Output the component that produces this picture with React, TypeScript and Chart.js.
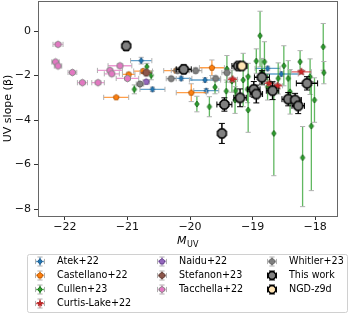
import React, { useEffect, useRef } from "react";
import { Chart, registerables } from "chart.js";

Chart.register(...registerables);

const X_TICKS = [-22, -21, -20, -19, -18];
const Y_TICKS = [-8, -6, -4, -2, 0];
const X_RANGE = [-22.43, -17.65];
const Y_RANGE = [-8.31, 1.35];

// each point: [M_UV, beta, xerr, yerrLow, yerrHigh]
const ATEK = [
  [-20.78, -1.33, 0.17, 0.15, 0.15],
  [-20.6, -2.62, 0.2, 0.1, 0.1],
  [-20.14, -2.13, 0.17, 0.1, 0.1],
  [-19.76, -2.2, 0.25, 0.1, 0.1],
  [-19.74, -2.68, 0.2, 0.1, 0.1],
  [-18.76, -1.68, 0.2, 0.1, 0.1],
  [-18.54, -1.93, 0.27, 0.1, 0.1],
];
const CASTELLANO = [
  [-21.18, -2.98, 0.2, 0.05, 0.05],
  [-20.98, -1.95, 0.1, 0.1, 0.1],
  [-20.75, -1.8, 0.15, 0.1, 0.1],
  [-20.22, -1.78, 0.2, 0.1, 0.1],
  [-19.65, -1.65, 0.2, 0.35, 0.35],
  [-19.98, -2.77, 0.24, 0.4, 0.4],
];
const CULLEN = [
  [-20.89, -2.62, 0, 0.2, 0.2],
  [-20.69, -1.6, 0, 0.15, 0.15],
  [-20.62, -1.99, 0, 0.2, 0.2],
  [-19.6, -2.52, 0, 0.3, 0.3],
  [-19.89, -3.28, 0, 0.35, 0.35],
  [-19.69, -3.4, 0, 0.45, 0.45],
  [-19.41, -1.7, 0, 0.6, 0.6],
  [-19.42, -2.7, 0, 0.5, 0.5],
  [-19.33, -2.25, 0, 0.5, 0.5],
  [-19.27, -2.68, 0, 0.5, 0.5],
  [-19.28, -3.1, 0, 0.6, 0.6],
  [-19.15, -2.2, 0, 1.2, 1.2],
  [-19.08, -2.62, 0, 0.6, 0.6],
  [-19.07, -3.55, 0, 1.0, 1.0],
  [-19.07, -2.05, 0, 0.6, 0.6],
  [-18.94, -1.35, 0, 0.55, 0.55],
  [-18.88, -0.21, 0, 1.4, 1.1],
  [-18.81, -1.38, 0, 0.9, 0.9],
  [-18.85, -1.83, 0, 0.6, 0.6],
  [-18.76, -2.5, 0, 0.6, 0.6],
  [-18.66, -4.6, 0, 1.9, 1.9],
  [-18.59, -2.13, 0, 0.7, 0.7],
  [-18.5, -1.56, 0, 0.9, 0.9],
  [-18.43, -2.13, 0, 0.8, 0.8],
  [-18.4, -2.73, 0, 1.0, 1.0],
  [-18.24, -1.38, 0, 0.5, 0.5],
  [-18.2, -5.69, 0, 2.2, 1.4],
  [-18.08, -2.05, 0, 0.8, 0.8],
  [-18.06, -4.27, 0, 2.9, 2.0],
  [-18.01, -3.1, 0, 1.0, 1.0],
  [-17.87, -0.71, 0, 1.05, 1.05],
  [-17.86, -1.87, 0, 0.5, 0.5],
];
const CURTIS_LAKE = [
  [-19.32, -2.17, 0.08, 0.1, 0.1],
  [-18.73, -2.35, 0.08, 0.1, 0.1],
  [-18.6, -2.46, 0.08, 0.1, 0.1],
  [-18.22, -1.83, 0.16, 0.1, 0.1],
];
const NAIDU = [[-20.7, -2.28, 0.05, 0.1, 0.1]];
const STEFANON = [[-20.7, -1.87, 0.1, 0.15, 0.15]];
const TACCHELLA = [
  [-22.11, -0.6, 0.08, 0.08, 0.08],
  [-22.15, -1.39, 0.06, 0.08, 0.08],
  [-22.11, -1.57, 0.06, 0.08, 0.08],
  [-21.88, -1.86, 0.07, 0.08, 0.08],
  [-21.72, -2.32, 0.08, 0.08, 0.08],
  [-21.47, -2.32, 0.1, 0.08, 0.08],
  [-21.12, -1.56, 0.19, 0.1, 0.1],
  [-21.28, -1.77, 0.2, 0.1, 0.1],
  [-21.25, -1.92, 0.12, 0.1, 0.1],
  [-21.0, -2.13, 0.18, 0.1, 0.1],
];
const WHITLER = [
  [-20.8, -2.38, 0.06, 0.1, 0.1],
  [-20.3, -2.14, 0.08, 0.1, 0.1],
  [-20.2, -1.78, 0.1, 0.12, 0.12],
  [-19.91, -1.78, 0.1, 0.12, 0.12],
  [-19.41, -1.87, 0.08, 0.1, 0.1],
  [-19.59, -2.13, 0.08, 0.1, 0.1],
];
const THIS_WORK = [
  [-21.02, -0.67, 0.03, 0.2, 0.2],
  [-20.1, -1.72, 0.12, 0.2, 0.2],
  [-19.45, -3.3, 0.12, 0.3, 0.3],
  [-19.49, -4.6, 0.05, 0.45, 0.45],
  [-19.2, -3.0, 0.1, 0.4, 0.4],
  [-19.23, -1.57, 0.1, 0.15, 0.15],
  [-18.98, -2.62, 0.1, 0.35, 0.35],
  [-18.94, -2.83, 0.1, 0.4, 0.4],
  [-18.85, -2.08, 0.12, 0.3, 0.3],
  [-18.68, -2.68, 0.1, 0.4, 0.4],
  [-18.43, -3.06, 0.1, 0.3, 0.3],
  [-18.32, -3.1, 0.1, 0.3, 0.3],
  [-18.27, -3.36, 0.1, 0.35, 0.35],
  [-18.13, -2.35, 0.17, 0.3, 0.3],
];
const NGD_Z9D = [[-19.17, -1.57, 0.08, 0.12, 0.12]];

const FONT = '"DejaVu Sans", sans-serif';

type Style = {
  label: string;
  pts: number[][];
  shape: string;
  r: number;
  fill: string;
  edge: string;
  lw: number;
  errColor: string;
  capColor: string;
  errWidth: number;
  order: number;
};

const SERIES: Style[] = [
  { label: "Atek+22", pts: ATEK, shape: "diamond", r: 3.0, fill: "#1f77b4", edge: "#1f4f7f", lw: 0.8, errColor: "rgba(31,119,180,0.7)", capColor: "#b0b0b0", errWidth: 1.3, order: 100 },
  { label: "Castellano+22", pts: CASTELLANO, shape: "pentagon", r: 3.0, fill: "#ff7f0e", edge: "#a85000", lw: 0.8, errColor: "rgba(255,127,14,0.75)", capColor: "#b0b0b0", errWidth: 1.3, order: 99 },
  { label: "Cullen+23", pts: CULLEN, shape: "diamond", r: 3.0, fill: "#2ca02c", edge: "#145a14", lw: 0.8, errColor: "rgba(44,160,44,0.75)", capColor: "#b0b0b0", errWidth: 1.3, order: 98 },
  { label: "Curtis-Lake+22", pts: CURTIS_LAKE, shape: "star", r: 4.0, fill: "#d62728", edge: "#8a1010", lw: 0.6, errColor: "rgba(214,39,40,0.75)", capColor: "#b0b0b0", errWidth: 1.3, order: 97 },
  { label: "Naidu+22", pts: NAIDU, shape: "pentagon", r: 3.2, fill: "#9467bd", edge: "#5a3a80", lw: 0.8, errColor: "rgba(148,103,189,0.75)", capColor: "#b0b0b0", errWidth: 1.3, order: 96 },
  { label: "Stefanon+23", pts: STEFANON, shape: "octagon", r: 3.6, fill: "#8c564b", edge: "#4a2a22", lw: 0.8, errColor: "rgba(140,86,75,0.75)", capColor: "#b0b0b0", errWidth: 1.3, order: 95 },
  { label: "Tacchella+22", pts: TACCHELLA, shape: "hexagon", r: 3.4, fill: "#e377c2", edge: "#888888", lw: 1, errColor: "rgba(227,119,194,0.75)", capColor: "#b0b0b0", errWidth: 1.3, order: 94 },
  { label: "Whitler+23", pts: WHITLER, shape: "octagon", r: 3.2, fill: "#7f7f7f", edge: "#555555", lw: 0.8, errColor: "rgba(127,127,127,0.7)", capColor: "#b0b0b0", errWidth: 1.3, order: 93 },
  { label: "This work", pts: THIS_WORK, shape: "octagon", r: 4.8, fill: "#808080", edge: "#000000", lw: 1.5, errColor: "#000000", capColor: "#000000", errWidth: 1.5, order: 1 },
  { label: "NGD-z9d", pts: NGD_Z9D, shape: "octagon", r: 4.8, fill: "#ffe4b5", edge: "#000000", lw: 1.5, errColor: "#000000", capColor: "#000000", errWidth: 1.5, order: 0 },
];

function shapePath(ctx: CanvasRenderingContext2D, shape: string, cx: number, cy: number, r: number) {
  ctx.beginPath();
  if (shape === "diamond") {
    ctx.moveTo(cx, cy - r);
    ctx.lineTo(cx + r * 0.75, cy);
    ctx.lineTo(cx, cy + r);
    ctx.lineTo(cx - r * 0.75, cy);
  } else if (shape === "star") {
    for (let i = 0; i < 10; i++) {
      const a = -Math.PI / 2 + (i * Math.PI) / 5;
      const rr = i % 2 === 0 ? r : r * 0.42;
      const px = cx + rr * Math.cos(a);
      const py = cy + rr * Math.sin(a);
      if (i === 0) ctx.moveTo(px, py);
      else ctx.lineTo(px, py);
    }
  } else {
    const n = shape === "pentagon" ? 5 : shape === "hexagon" ? 6 : 8;
    const off = shape === "pentagon" ? -Math.PI / 2 : shape === "hexagon" ? -Math.PI / 2 : Math.PI / 8;
    for (let i = 0; i < n; i++) {
      const a = off + (i * 2 * Math.PI) / n;
      const px = cx + r * Math.cos(a);
      const py = cy + r * Math.sin(a);
      if (i === 0) ctx.moveTo(px, py);
      else ctx.lineTo(px, py);
    }
  }
  ctx.closePath();
}

function drawMarker(ctx: CanvasRenderingContext2D, s: Style, cx: number, cy: number) {
  shapePath(ctx, s.shape, cx, cy, s.r);
  ctx.fillStyle = s.fill;
  ctx.fill();
  ctx.lineWidth = s.lw;
  ctx.strokeStyle = s.edge;
  ctx.stroke();
}

function markerCanvas(s: Style) {
  const size = Math.ceil(2 * (s.r + s.lw) + 2);
  const c = document.createElement("canvas");
  c.width = size;
  c.height = size;
  const ctx = c.getContext("2d")!;
  drawMarker(ctx, s, size / 2, size / 2);
  return c;
}

function drawErr(ctx: CanvasRenderingContext2D, s: Style, x: number, y: number, xl: number, xh: number, yl: number, yh: number) {
  const cap = s.order <= 1 ? 3 : 2.6;
  ctx.lineWidth = s.errWidth;
  ctx.strokeStyle = s.errColor;
  ctx.beginPath();
  if (xh - xl > 0.5) {
    ctx.moveTo(xl, y);
    ctx.lineTo(xh, y);
  }
  if (yl - yh > 0.5) {
    ctx.moveTo(x, yh);
    ctx.lineTo(x, yl);
  }
  ctx.stroke();
  ctx.strokeStyle = s.capColor;
  ctx.lineWidth = 1;
  ctx.beginPath();
  if (xh - xl > 0.5) {
    ctx.moveTo(xl, y - cap);
    ctx.lineTo(xl, y + cap);
    ctx.moveTo(xh, y - cap);
    ctx.lineTo(xh, y + cap);
  }
  if (yl - yh > 0.5) {
    ctx.moveTo(x - cap, yh);
    ctx.lineTo(x + cap, yh);
    ctx.moveTo(x - cap, yl);
    ctx.lineTo(x + cap, yl);
  }
  ctx.stroke();
}

const minus = (v: number) => String(v).replace("-", "\u2212");

export default function App() {
  const ref = useRef<HTMLCanvasElement>(null);
  useEffect(() => {
    const canvas = ref.current!;
    const errPlugin = {
      id: "errbars",
      beforeDatasetDraw(chart: any, args: any) {
        const s = SERIES[args.index];
        const xs = chart.scales.x;
        const ys = chart.scales.y;
        const ctx = chart.ctx;
        const a = chart.chartArea;
        ctx.save();
        ctx.beginPath();
        ctx.rect(a.left, a.top, a.right - a.left, a.bottom - a.top);
        ctx.clip();
        s.pts.forEach((p) => {
          const x = xs.getPixelForValue(p[0]);
          const y = ys.getPixelForValue(p[1]);
          drawErr(
            ctx,
            s,
            x,
            y,
            xs.getPixelForValue(p[0] - p[2]),
            xs.getPixelForValue(p[0] + p[2]),
            ys.getPixelForValue(p[1] - p[3]),
            ys.getPixelForValue(p[1] + p[4])
          );
        });
        ctx.restore();
      },
      afterDraw(chart: any) {
        const ctx = chart.ctx;
        const a = chart.chartArea;
        ctx.save();
        // frame
        ctx.strokeStyle = "#666";
        ctx.lineWidth = 1;
        ctx.strokeRect(Math.round(a.left) + 0.5, Math.round(a.top) + 0.5, Math.round(a.right - a.left), Math.round(a.bottom - a.top));
        // x title M_UV
        const cx = (a.left + a.right) / 2;
        ctx.fillStyle = "#000";
        ctx.textBaseline = "alphabetic";
        ctx.font = `italic 11px ${FONT}`;
        const wM = ctx.measureText("M").width;
        ctx.font = `8px ${FONT}`;
        const wS = ctx.measureText("UV").width;
        const x0 = cx - (wM + wS) / 2;
        ctx.font = `italic 11px ${FONT}`;
        ctx.textAlign = "left";
        ctx.fillText("M", x0, 244);
        ctx.font = `8px ${FONT}`;
        ctx.fillText("UV", x0 + wM + 0.5, 246.5);
        // legend
        const lx = 27.5, ly = 254.5, lw = 320, lh = 58;
        ctx.beginPath();
        const rr = 2;
        ctx.moveTo(lx + rr, ly);
        ctx.lineTo(lx + lw - rr, ly);
        ctx.quadraticCurveTo(lx + lw, ly, lx + lw, ly + rr);
        ctx.lineTo(lx + lw, ly + lh - rr);
        ctx.quadraticCurveTo(lx + lw, ly + lh, lx + lw - rr, ly + lh);
        ctx.lineTo(lx + rr, ly + lh);
        ctx.quadraticCurveTo(lx, ly + lh, lx, ly + lh - rr);
        ctx.lineTo(lx, ly + rr);
        ctx.quadraticCurveTo(lx, ly, lx + rr, ly);
        ctx.closePath();
        ctx.fillStyle = "rgba(255,255,255,0.8)";
        ctx.fill();
        ctx.strokeStyle = "#d0d0d0";
        ctx.lineWidth = 1;
        ctx.stroke();
        const cols = [
          { mx: 40, tx: 57, items: [0, 1, 2, 3] },
          { mx: 162, tx: 179, items: [4, 5, 6] },
          { mx: 272, tx: 289, items: [7, 8, 9] },
        ];
        const rows = [261.5, 275.5, 289.5, 303.5];
        cols.forEach((c) => {
          c.items.forEach((idx, r) => {
            const s = SERIES[idx];
            const y = rows[r];
            drawErr(ctx, s, c.mx, y, c.mx - 4.5, c.mx + 4.5, y + 4.5, y - 4.5);
            const ms = { ...s, r: s.order <= 1 ? 4 : Math.min(s.r, 3) };
            drawMarker(ctx, ms, c.mx, y);
            ctx.fillStyle = "#000";
            ctx.font = `9.6px ${FONT}`;
            ctx.textAlign = "left";
            ctx.textBaseline = "middle";
            ctx.fillText(s.label, c.tx, y);
          });
        });
        ctx.restore();
      },
    };

    const chart = new Chart(canvas, {
      type: "scatter",
      data: {
        datasets: SERIES.map((s) => ({
          label: s.label,
          data: s.pts.map((p) => ({ x: p[0], y: p[1] })),
          pointStyle: markerCanvas(s) as any,
          pointRadius: s.r,
          order: s.order,
          clip: 0,
        })),
      },
      options: {
        animation: false,
        responsive: false,
        events: [],
        layout: { autoPadding: false, padding: { left: 0, right: 13, top: 1, bottom: 66 } },
        plugins: { legend: { display: false }, tooltip: { enabled: false } },
        scales: {
          x: {
            type: "linear",
            min: X_RANGE[0],
            max: X_RANGE[1],
            border: { display: false },
            grid: { drawOnChartArea: false, drawTicks: true, tickLength: 4, tickColor: "#333" },
            ticks: { color: "#111", font: { family: FONT, size: 11 }, padding: 1, maxRotation: 0, callback: (v: any) => minus(v) },
            afterBuildTicks: (sc: any) => {
              sc.ticks = X_TICKS.map((v) => ({ value: v }));
            },
            afterFit: (sc: any) => {
              sc.height = 32;
              sc.paddingLeft = 0;
              sc.paddingRight = 0;
            },
          },
          y: {
            type: "linear",
            min: Y_RANGE[0],
            max: Y_RANGE[1],
            border: { display: false },
            grid: { drawOnChartArea: false, drawTicks: true, tickLength: 4, tickColor: "#333" },
            ticks: { color: "#111", font: { family: FONT, size: 11 }, padding: 3, callback: (v: any) => minus(v) },
            title: { display: true, text: "UV slope (\u03b2)", color: "#000", font: { family: FONT, size: 11 }, padding: { top: 2, bottom: 0 } },
            afterBuildTicks: (sc: any) => {
              sc.ticks = Y_TICKS.map((v) => ({ value: v }));
            },
            afterFit: (sc: any) => {
              sc.width = 38;
              sc.paddingTop = 0;
              sc.paddingBottom = 0;
            },
          },
        },
      },
      plugins: [errPlugin],
    });
    return () => chart.destroy();
  }, []);

  return (
    <div style={{ position: "fixed", left: 0, top: 0, width: 350, height: 314, background: "#fff" }}>
      <canvas ref={ref} width={350} height={314} style={{ display: "block" }} />
    </div>
  );
}
